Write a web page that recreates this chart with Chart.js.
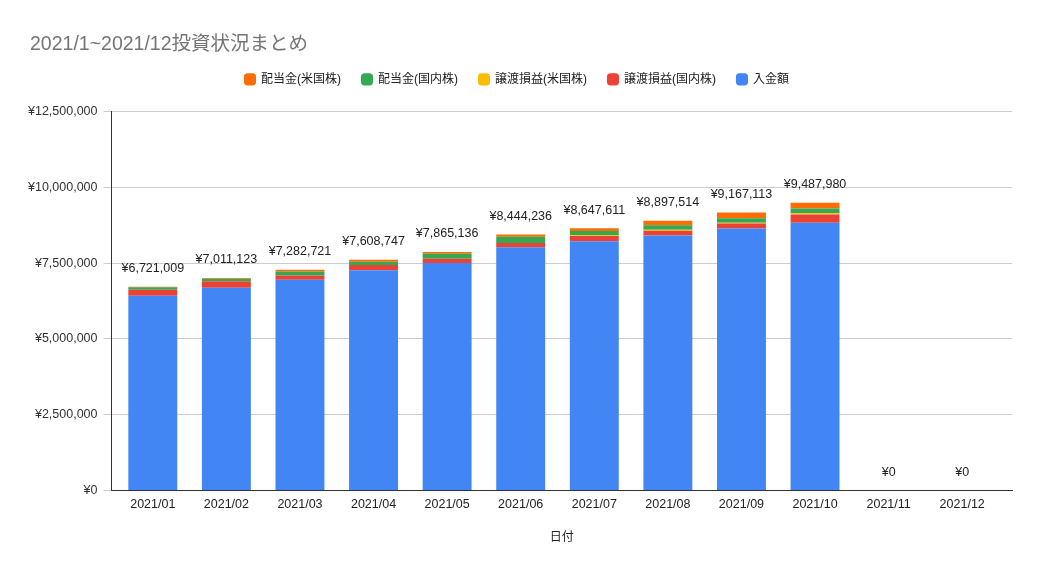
<!DOCTYPE html>
<html>
<head>
<meta charset="utf-8">
<script src="https://cdn.jsdelivr.net/npm/chart.js@4.4.0/dist/chart.umd.min.js"></script>
<style>
html,body{margin:0;padding:0;background:#fff;}
#wrap{width:1040px;height:572px;}
</style>
</head>
<body>
<div id="wrap"><canvas id="c" width="1040" height="572"></canvas></div>
<script>
const chartTitle = '2021/1~2021/12投資状況まとめ';
const months = ['2021/01','2021/02','2021/03','2021/04','2021/05','2021/06','2021/07','2021/08','2021/09','2021/10','2021/11','2021/12'];
const deposit      = [6420000,6685000,6950000,7260000,7500000,8020000,8220000,8410000,8640000,8830000,0,0];
const gainJP       = [200000,220000,140000,180000,140000,145000,170000,155000,168000,270000,0,0];
const gainUS       = [0,0,0,0,0,0,30000,33000,22000,45000,0,0];
const dividendJP   = [80000,76000,135000,100000,165000,200000,135000,145000,145000,155000,0,0];
const dividendUS   = [21009,30123,57721,68747,60136,79236,92611,154514,192113,187980,0,0];
const yTicks = [0,2500000,5000000,7500000,10000000,12500000];

const yen = v => '¥' + Number(v).toLocaleString('en-US');
const FONT = "Arial, 'Liberation Sans', 'Noto Sans CJK JP', sans-serif";

const totalLabels = {
  id:'totalLabels',
  afterDatasetsDraw(chart){
    const ctx = chart.ctx, y = chart.scales.y;
    const meta = chart.getDatasetMeta(0);
    ctx.save();
    ctx.font = "12.5px " + FONT;
    ctx.fillStyle = '#222';
    ctx.textAlign = 'center';
    ctx.textBaseline = 'middle';
    months.forEach((m,i)=>{
      const t = deposit[i]+gainJP[i]+gainUS[i]+dividendJP[i]+dividendUS[i];
      const x = meta.data[i].x;
      ctx.fillText(yen(t), x, y.getPixelForValue(t) - 18);
    });
    ctx.restore();
  }
};

const titlePlugin = {
  id:'leftTitle',
  afterDraw(chart){
    const ctx = chart.ctx;
    ctx.save();
    ctx.font = "19.5px " + FONT;
    ctx.fillStyle = '#757575';
    ctx.textAlign = 'left';
    ctx.textBaseline = 'middle';
    ctx.fillText(chartTitle, 30, 44.5);
    ctx.restore();
  }
};

const legendMargin = {
  id:'legendMargin',
  beforeInit(chart){
    const orig = chart.legend.fit;
    chart.legend.fit = function(){ orig.call(this); this.height += 16; };
  }
};

// inner side gaps of the category axis (Google Sheets style)
const xInnerGap = {
  id:'xInnerGap',
  afterLayout(chart){
    const s = chart.scales.x;
    const L = s.right - s.left;
    const g1 = 4.5, g2 = 13;
    const step = (L - g1 - g2) / months.length;
    s._startValue = -0.5 - g1 / step;
    s._valueRange = L / step;
  }
};

new Chart(document.getElementById('c'), {
  type:'bar',
  data:{
    labels: months,
    datasets:[
      {label:'入金額', data:deposit, backgroundColor:'#4285f4'},
      {label:'譲渡損益(国内株)', data:gainJP, backgroundColor:'#ea4335'},
      {label:'譲渡損益(米国株)', data:gainUS, backgroundColor:'#fbbc04'},
      {label:'配当金(国内株)', data:dividendJP, backgroundColor:'#34a853'},
      {label:'配当金(米国株)', data:dividendUS, backgroundColor:'#ff6d00'}
    ]
  },
  options:{
    responsive:false,
    animation:false,
    devicePixelRatio:1,
    layout:{padding:{left:22,right:28,top:52.4,bottom:27}},
    datasets:{bar:{barPercentage:0.665,categoryPercentage:1,borderWidth:0}},
    plugins:{
      title:{display:false},
      legend:{display:true,position:'top',reverse:true,
        labels:{usePointStyle:true,pointStyle:'rectRounded',boxWidth:10,boxHeight:10,color:'#222',
          font:{family:FONT,size:12},padding:21}},
      tooltip:{enabled:false}
    },
    scales:{
      x:{stacked:true,
        grid:{display:false,drawTicks:false},
        border:{display:true,color:'#333',width:1},
        ticks:{color:'#222',font:{family:FONT,size:12.5},padding:6,maxRotation:0},
        title:{display:true,text:'日付',color:'#222',font:{family:FONT,size:12},padding:{top:13,bottom:0}}
      },
      y:{stacked:true,min:0,max:12500000,
        afterBuildTicks(axis){axis.ticks = yTicks.map(v=>({value:v}));},
        grid:{color:'#cccccc',tickLength:8,drawTicks:true},
        border:{display:true,color:'#333',width:1},
        ticks:{color:'#333',font:{family:FONT,size:12.5},padding:6,callback:v=>yen(v)}
      }
    }
  },
  plugins:[totalLabels, legendMargin, xInnerGap, titlePlugin]
});
</script>
</body>
</html>
